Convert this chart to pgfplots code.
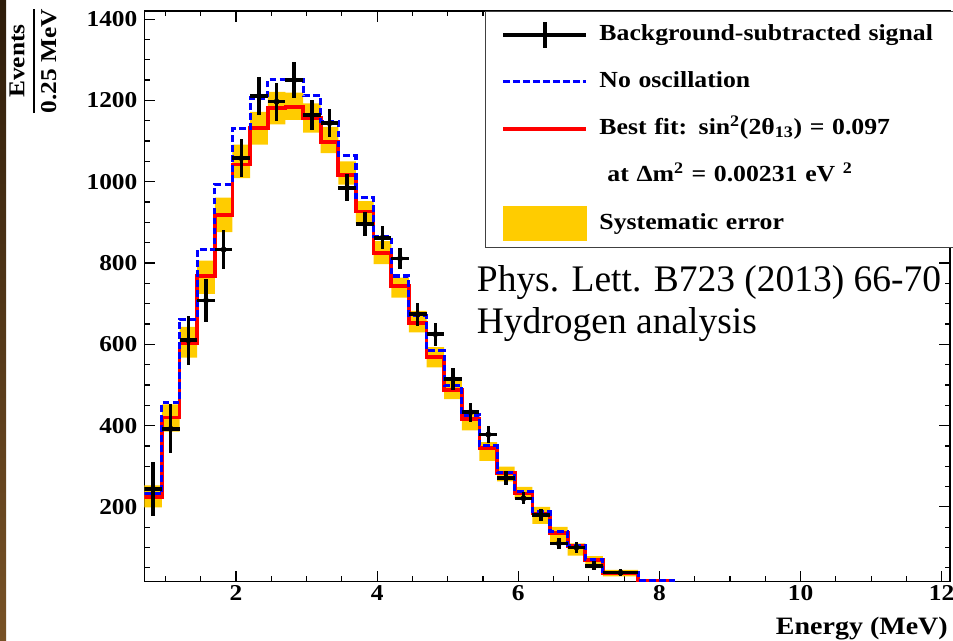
\documentclass[border=0pt]{standalone}
\usepackage{fontspec}
\setmainfont{Liberation Serif}
\newfontfamily\rb{Liberation Serif}[FakeStretch=1.12]
\usepackage{pgfplots}
\pgfplotsset{compat=1.18}
\usepackage{pgfplotstable}
\usepgfplotslibrary{fillbetween}
\definecolor{syserr}{RGB}{255,204,0}
\definecolor{rootblue}{RGB}{0,0,255}
\definecolor{rootred}{RGB}{255,0,0}

\pgfplotstableread{
xl fit noosc ylo yhi
0.70 225 232 199 253
0.95 420 457 385 452
1.20 602 662 567 643
1.45 768 833 724 806
1.70 918 994 876 961
1.95 1042 1131 1009 1091
2.20 1133 1206 1091 1172
2.45 1182 1252 1141 1221
2.70 1184 1252 1152 1219
2.95 1156 1211 1121 1193
3.20 1097 1149 1070 1135
3.45 1017 1064 993 1050
3.70 927 960 897 952
3.95 825 866 797 854
4.20 743 768 715 764
4.45 653 670 629 682
4.70 569 584 543 593
4.95 488 498 465 510
5.20 416 426 388 429
5.45 345 351 313 359
5.70 283 284 263 299
5.95 233 237 220 249
6.20 184 188 158 200
6.45 135 139 112 151
6.70 104 106 80 110
6.95 69 71 49 79
7.20 37 38 29 45
7.70 19 20 15 22
8.20 19 20 15 22
8.20 0 0 0 0
}\hist

\pgfplotstableread{
xc hw data err
0.825 0.125 244 67
1.075 0.125 392 60
1.325 0.125 610 60
1.575 0.125 708 53
1.825 0.125 833 48
2.075 0.125 1058 47
2.325 0.125 1211 46
2.575 0.125 1197 47
2.825 0.125 1250 45
3.075 0.125 1164 36
3.325 0.125 1144 35
3.575 0.125 985 33
3.825 0.125 896 30
4.075 0.125 862 28
4.325 0.125 811 27
4.575 0.125 674 28
4.825 0.125 625 28
5.075 0.125 515 27
5.325 0.125 433 23
5.575 0.125 378 22
5.825 0.125 271 18
6.075 0.125 221 15
6.325 0.125 180 14
6.575 0.125 110 14
6.825 0.125 100 13
7.075 0.125 55 11
7.45 0.25 38 9
}\datatab

\begin{document}
\begin{tikzpicture}
\shade[top color={rgb,255:red,45;green,28;blue,10}, bottom color={rgb,255:red,120;green,82;blue,38}] (0pt,0pt) rectangle (4.5pt,480.75pt);
\begin{axis}[
  at={(108.2pt,44.5pt)}, anchor=south west,
  scale only axis, width=604.4pt, height=428pt,
  xmin=0.7, xmax=12.12, ymin=16, ymax=1420,
  xtick={2,4,...,12}, ytick={200,400,...,1400},
  minor xtick={1,1.5,...,12}, minor ytick={50,100,...,1400},
  major tick length=8pt, minor tick length=4pt,
  tick align=inside,
  tick style={black, line width=0.9pt},
  axis line style={black, line width=1.1pt},
  /pgf/number format/assume math mode=true,
  /pgf/number format/1000 sep={},
  ticklabel style={font=\rb\bfseries\fontsize{17}{17}\selectfont},
  yticklabel style={inner sep=0pt, xshift=-5pt},
  xticklabel style={inner sep=0pt, yshift=-2.5pt},
  legend cell align=left,
  legend style={
    at={(0.4228,1)}, anchor=north west,
    draw=black!75, line width=1pt, fill=white,
    inner xsep=12pt, inner ysep=5pt,
    row sep=10.45pt,
    font=\rb\bfseries\fontsize{17.25}{17.25}\selectfont,
    nodes={inner sep=0pt, text height=16.6pt, text depth=8.2pt, text width=270pt, align=left},
    /tikz/every odd column/.append style={column sep=8.5pt},
  },
]
\addlegendimage{legend image code/.code={\draw[black, line width=2.6pt] (0pt,0pt) -- (62.25pt,0pt); \draw[black, line width=2.6pt] (31.1pt,-9.5pt) -- (31.1pt,9.5pt);}}
\addlegendentry{Background-subtracted signal}
\addlegendimage{legend image code/.code={\draw[rootblue, line width=2.2pt, dash pattern=on 5pt off 2.5pt] (0pt,0pt) -- (62.25pt,0pt);}}
\addlegendentry{No oscillation}
\addlegendimage{legend image code/.code={\draw[rootred, line width=2.6pt] (0pt,0pt) -- (62.25pt,0pt);}}
\addlegendentry{Best fit: sin\textsuperscript{2}(2θ\textsubscript{13}) = 0.097}
\addlegendimage{empty legend}
\addlegendentry{\hspace{6pt}at Δm\textsuperscript{2} = 0.00231 eV \textsuperscript{2}}
\addlegendimage{legend image code/.code={\fill[syserr] (0pt,-12.4pt) rectangle (62.25pt,12.4pt);}}
\addlegendentry{Systematic error}

\addplot[name path=hi, const plot, draw=none, forget plot] table[x=xl, y=yhi]{\hist};
\addplot[name path=lo, const plot, draw=none, forget plot] table[x=xl, y=ylo]{\hist};
\addplot[syserr, forget plot] fill between[of=hi and lo];
\addplot[rootred, line width=2.8pt, const plot, forget plot] table[x=xl, y=fit]{\hist};
\addplot[rootblue, line width=2.3pt, dash pattern=on 5pt off 2.5pt, const plot, forget plot] table[x=xl, y=noosc]{\hist};
\addplot[black, only marks, mark=none, forget plot,
  error bars/.cd, x dir=both, x explicit, y dir=both, y explicit, error mark=none,
  error bar style={black, line width=2.6pt}]
  table[x=xc, y=data, x error=hw, y error=err]{\datatab};
\end{axis}
\node[anchor=base west, inner sep=0pt, font=\fontsize{28.1}{28.1}\selectfont] at (357.5pt,262pt) {Phys. Lett. B723 (2013) 66-70};
\node[anchor=base west, inner sep=0pt, font=\fontsize{28.1}{28.1}\selectfont] at (357.5pt,230.8pt) {Hydrogen analysis};
\node[rotate=90, inner sep=0pt, font=\rb\bfseries\fontsize{17}{17}\selectfont] at (24.75pt,435pt) {$\displaystyle{\hbox{\rb\bfseries Events}\above 1.5pt\hbox{\rb\bfseries 0.25 MeV}}$};
\node[anchor=base east, inner sep=0pt, font=\rb\bfseries\fontsize{18.75}{18.75}\selectfont] at (711pt,4.5pt) {Energy (MeV)};
\pgfresetboundingbox
\path[use as bounding box] (0pt,0pt) rectangle (714.75pt,480.75pt);
\end{tikzpicture}
\end{document}
